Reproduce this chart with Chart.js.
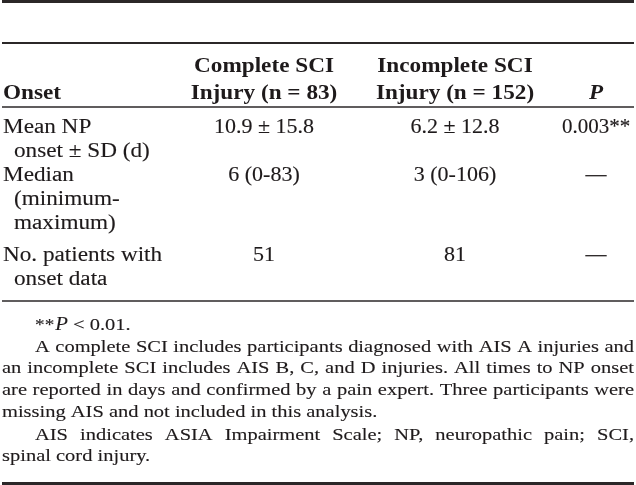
<!DOCTYPE html>
<html>
<head>
<meta charset="utf-8">
<script src="https://cdn.jsdelivr.net/npm/chart.js@4/dist/chart.umd.min.js"></script>
<style>
html,body{margin:0;padding:0;background:#fff;}
#wrap{width:636px;height:485px;}
</style>
</head>
<body>
<div id="wrap"><canvas id="c" width="636" height="485"></canvas></div>
<script>
// ---- table content ----
const headerTop = ["", "Complete SCI", "Incomplete SCI", ""];
const headerBottom = ["Onset", "Injury (n = 83)", "Injury (n = 152)", "P"];
const rowLabels = [
  ["Mean NP", "onset \u00b1 SD (d)"],
  ["Median", "(minimum-", "maximum)"],
  ["No. patients with", "onset data"]
];
const completeValues = ["10.9 \u00b1 15.8", "6 (0-83)", "51"];
const incompleteValues = ["6.2 \u00b1 12.8", "3 (0-106)", "81"];
const pValues = ["0.003**", "\u2014", "\u2014"];
const footnoteSig = ["**", "P", " < 0.01."];
const footnoteLines = [
  ["A complete SCI includes participants diagnosed with AIS A injuries and", true, true],
  ["an incomplete SCI includes AIS B, C, and D injuries. All times to NP onset", false, true],
  ["are reported in days and confirmed by a pain expert. Three participants were", false, true],
  ["missing AIS and not included in this analysis.", false, false],
  ["AIS indicates ASIA Impairment Scale; NP, neuropathic pain; SCI,", true, true],
  ["spinal cord injury.", false, false]
];

// ---- layout (pixel-unit scales) ----
const colCenters = [0, 264, 455, 596];
const leftX = 3, indent = 11, rightX = 634, paraIndent = 35;
const ruleYs = [[1.5, 3], [43, 2], [107, 1.5], [301, 1.5], [483.5, 3]];
const headTopY = 72, headBotY = 99;
const rowBaselines = [[133, 157], [181, 205, 229], [261, 285]];
const footSigY = 330;
const footYs = [352, 373, 395, 417, 440, 461];

const SERIF = '"Liberation Serif", "Times New Roman", serif';
const INK = '#1e1a1b';

function drawScaled(ctx, str, x, y, align, font, sx, heavy) {
  ctx.font = font;
  const w = ctx.measureText(str).width * sx;
  let left = x;
  if (align === 'center') left = x - w / 2;
  else if (align === 'right') left = x - w;
  ctx.save();
  ctx.translate(left, y);
  ctx.scale(sx, 1);
  ctx.textAlign = 'left';
  ctx.textBaseline = 'alphabetic';
  ctx.fillText(str, 0, 0);
  if (heavy) {
    ctx.lineWidth = heavy;
    ctx.strokeStyle = INK;
    ctx.strokeText(str, 0, 0);
  }
  ctx.restore();
  return w;
}

function drawJustified(ctx, str, x0, x1, y, font, sx, heavy) {
  ctx.font = font;
  const words = str.split(' ');
  const ws = words.map(w => ctx.measureText(w).width * sx);
  const sum = ws.reduce((a, b) => a + b, 0);
  const gap = (x1 - x0 - sum) / (words.length - 1);
  let x = x0;
  words.forEach((w, i) => {
    drawScaled(ctx, w, x, y, 'left', font, sx, heavy);
    x += ws[i] + gap;
  });
}

const tablePlugin = {
  id: 'tablePlugin',
  beforeDraw(chart) {
    const ctx = chart.ctx;
    ctx.save();
    ctx.fillStyle = '#fff';
    ctx.fillRect(0, 0, chart.width, chart.height);
    ctx.restore();
  },
  afterDraw(chart) {
    const ctx = chart.ctx;
    const xs = chart.scales.x, ys = chart.scales.y;
    const X = v => xs.getPixelForValue(v);
    const Y = v => ys.getPixelForValue(v);
    ctx.save();
    // rules
    ctx.strokeStyle = '#2b2728';
    ruleYs.forEach(([y, lw]) => {
      ctx.lineWidth = lw;
      ctx.beginPath();
      ctx.moveTo(X(2), Y(y));
      ctx.lineTo(X(634), Y(y));
      ctx.stroke();
    });
    ctx.fillStyle = INK;
    const headFont = 'bold 20px ' + SERIF;
    const headSx = 1.16;
    // header
    headerTop.forEach((t, i) => {
      if (t) drawScaled(ctx, t, X(colCenters[i]), Y(headTopY), 'center', headFont, headSx);
    });
    headerBottom.forEach((t, i) => {
      if (i === 0) drawScaled(ctx, t, X(leftX), Y(headBotY), 'left', headFont, headSx);
      else if (i === 3) drawScaled(ctx, t, X(colCenters[i]), Y(headBotY), 'center', 'italic bold 21px ' + SERIF, 1.1);
      else drawScaled(ctx, t, X(colCenters[i]), Y(headBotY), 'center', headFont, headSx);
    });
    // body
    const bodyFont = '20px ' + SERIF;
    const bodySx = 1.16;
    const hv = 0.12;
    rowLabels.forEach((lines, r) => {
      lines.forEach((l, k) => {
        drawScaled(ctx, l, X(leftX + (k ? indent : 0)), Y(rowBaselines[r][k]), 'left', bodyFont, bodySx, hv);
      });
      const by = Y(rowBaselines[r][0]);
      drawScaled(ctx, completeValues[r], X(colCenters[1]), by, 'center', bodyFont, 1.1, hv);
      drawScaled(ctx, incompleteValues[r], X(colCenters[2]), by, 'center', bodyFont, 1.1, hv);
      drawScaled(ctx, pValues[r], X(colCenters[3]), by, 'center', bodyFont, 1.05, hv);
    });
    // footnotes
    const footFont = '17.5px ' + SERIF;
    const footSx = 1.17;
    let fx = X(paraIndent);
    fx += drawScaled(ctx, footnoteSig[0], fx, Y(footSigY), 'left', footFont, 1.1, hv);
    fx += 1;
    fx += drawScaled(ctx, footnoteSig[1], fx, Y(footSigY), 'left', 'italic 18px ' + SERIF, 1.15, hv);
    drawScaled(ctx, footnoteSig[2], fx, Y(footSigY), 'left', footFont, footSx, hv);
    footnoteLines.forEach(([txt, ind, just], i) => {
      const x0 = X(ind ? paraIndent : 2);
      if (just) drawJustified(ctx, txt, x0, X(rightX), Y(footYs[i]), footFont, footSx, hv);
      else drawScaled(ctx, txt, x0, Y(footYs[i]), 'left', footFont, footSx, hv);
    });
    ctx.restore();
  }
};

new Chart(document.getElementById('c'), {
  type: 'scatter',
  data: { datasets: [{ data: [], pointRadius: 0 }] },
  options: {
    responsive: false,
    devicePixelRatio: 1,
    animation: false,
    layout: { padding: 0 },
    plugins: { legend: { display: false }, tooltip: { enabled: false } },
    scales: {
      x: { type: 'linear', min: 0, max: 636, display: false },
      y: { type: 'linear', min: 0, max: 485, reverse: true, display: false }
    }
  },
  plugins: [tablePlugin]
});
</script>
</body>
</html>
